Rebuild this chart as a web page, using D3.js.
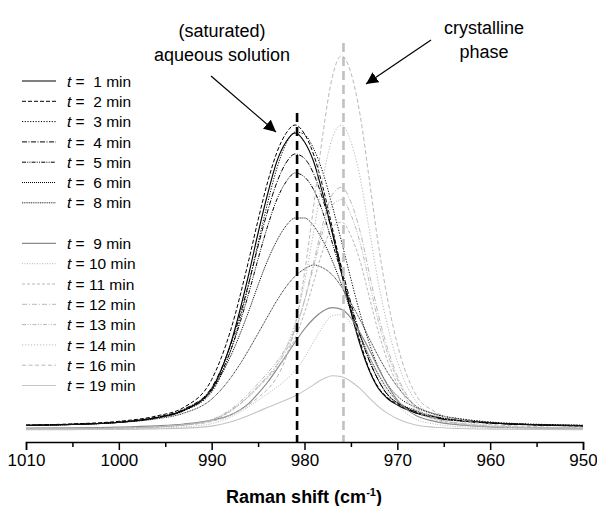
<!DOCTYPE html>
<html><head><meta charset="utf-8">
<script src="https://cdn.jsdelivr.net/npm/d3@7"></script>
<style>
html,body{margin:0;padding:0;background:#fff;}
svg{display:block;font-family:Arial,"Liberation Sans",sans-serif;}
</style></head>
<body>
<svg id="chart" width="597" height="506"></svg>
<script>
// Raman shift sample positions (cm-1)
const ramanShift = [1010,1005,1000,996,993,990,988,986,985,984,983,982,981,980,979,978,977,976,975,974,973,972,971,970,968,966,963,960,955,950];
// Intensities (arbitrary units)
const t1  = [6.6,7.6,9.7,14.4,22,43,87,158,199,237,270,290,299,290,270,237,199,158,120,87,61,43,33,27,19,14,11,9,7,6];
const t2  = [6.9,8.1,10.7,15.9,24.6,52.4,100.4,172,212,249,279,298.5,307,298,277,244,204,162,123,90,62,44,34,28,19,15,11,9,7,6];
const t3  = [6.6,7.6,9.6,14.1,21.2,40,80,148,189,228,263,288,300,297.5,283,259,226,190,153,118,88,64,47,36,24.6,17.8,13,10,7.8,6.8];
const t4  = [6.6,7.7,9.9,14.6,22.8,44.5,86,149,186,220,249,269,278,273.5,258,232,199.5,164,129,97,71,51,36.5,29.4,20.3,15.1,11,9,7.3,6.5];
const t5  = [6.5,7.5,9.6,13.9,21.6,41.7,80.5,139,173,205,232,250,259,255,242,219,189,158,125,96,71,51,37,29,20,15,11,9,7.3,6.5];
const t6  = [6.6,7.5,9.6,14.1,21.2,41.7,75,121,147,171,191,206,214,214,206,191,171,147,121,97,75,57,42,31,21.5,15.8,11.5,9.1,7.3,6.5];
const t8  = [6.6,7.5,9.5,13.1,18.8,32.9,53.6,82.3,98.6,115,131,145,156,163,167,164,157,145,129,112,93,75,59,45.5,26,18.3,12.5,9.7,7.3,6.5];
const t9  = [3.8,4.1,4.9,6.2,8,11.9,16.9,28.6,38.4,49.5,62.5,76,90,103,113.5,121,124.4,122.6,114,99,82,63,46,32,16.4,10.7,6.8,5.2,4.1,3.6];
const t10 = [2.4,2.7,3.0,3.9,5.1,8.4,14.9,25.4,31.7,38.1,44.7,52.2,61.6,74.5,90.3,105.8,116.4,117.4,108.8,94,73.8,54.3,38.9,27,12.8,8,5.2,3.9,3.1,2.75];
const t11 = [2.7,3.1,3.6,4.8,6.8,11.5,20.6,35.5,44.6,54,64.1,77,94.1,119.3,150.5,182.3,205,209.9,196.3,170.4,134.2,98.5,69.8,47.9,21.5,12.6,7.6,5.4,3.9,3.3];
const t12 = [2.8,3.2,3.8,5.1,7.1,12,21.2,36.4,45.8,55.6,66.6,81.2,101.3,131.7,169.8,208.9,237.4,244.7,229.9,200.2,157.8,115.8,82,56,24.8,14.3,8.5,5.9,4.2,3.5];
const t13 = [2.8,3.2,3.8,5.1,7.2,12.4,22.3,38.6,48.6,58.8,70,84.2,103.2,131.2,166,201.4,226.8,232.4,217.4,188.8,148.6,109,77.3,52.9,23.6,13.7,8.1,5.75,4.15,3.45];
const t14 = [2.9,3.4,4,5.3,7.4,12.1,20.9,35.6,44.8,54.7,66.6,84.1,109.7,149.9,201,254.3,294.3,306.9,290.3,254,200.8,147.4,104.2,70.7,30.7,17.3,10,6.8,4.8,3.9];
const t16 = [3,3.4,4,5.1,6.9,10.6,16.7,27.3,34.4,42.6,54.2,74.3,106.2,158.9,227,299.3,355.2,376.2,359.3,316.4,251.1,184.5,130.2,87.8,37.2,20.6,11.6,7.8,5.3,4.2];
const t19 = [2.2,2.4,2.6,3.1,3.9,5.9,10,16.6,20.6,24.4,28.2,32,36.2,41.4,47.4,52.9,56.2,55.3,50.5,43.3,33.9,25.2,18.4,13.3,7,4.8,3.5,2.9,2.5,2.35];

const legendLabels = ["1","2","3","4","5","6","8","9","10","11","12","13","14","16","19"];
const xTicks = [1010,1000,990,980,970,960,950];
const solutionPeak = 980.8;
const crystalPeak = 975.8;

const seriesData = [t1,t2,t3,t4,t5,t6,t8,t9,t10,t11,t12,t13,t14,t16,t19];
const styles = [
  {c:"#000", d:null, w:1.1},
  {c:"#000", d:"4,2", w:1},
  {c:"#000", d:"1.2,1.5", w:1},
  {c:"#000", d:"5,1.5,1,1.5", w:1},
  {c:"#000", d:"4,1.2,1,1.2,1,1.2", w:1},
  {c:"#000", d:"1,1", w:1},
  {c:"#222", d:"1,0.8", w:1},
  {c:"#8a8a8a", d:null, w:1.2},
  {c:"#b8b8b8", d:"1,1.5", w:1},
  {c:"#b8b8b8", d:"3,2", w:1},
  {c:"#b8b8b8", d:"5,2,1,2", w:1},
  {c:"#b8b8b8", d:"4,1.5,1,1.5,1,1.5", w:1},
  {c:"#b8b8b8", d:"1.2,1.8", w:1},
  {c:"#b8b8b8", d:"4,2.5", w:1},
  {c:"#c4c4c4", d:null, w:1.1}
];

const svg = d3.select("#chart");
const x = d3.scaleLinear().domain([1010,950]).range([26,583]);
const y = d3.scaleLinear().domain([0,400]).range([432,32]);
const axisY = 442;

const line = d3.line().x((d,i)=>x(ramanShift[i])).y(d=>y(d)).curve(d3.curveMonotoneX);

const g = svg.append("g");
seriesData.forEach((s,k)=>{
  g.append("path").attr("d", line(s)).attr("fill","none")
   .attr("stroke", styles[k].c).attr("stroke-width", styles[k].w)
   .attr("stroke-dasharray", styles[k].d);
});

// reference dashed lines
svg.append("line").attr("x1",x(crystalPeak)).attr("x2",x(crystalPeak)).attr("y1",43).attr("y2",axisY)
  .attr("stroke","#c0c0c0").attr("stroke-width",2.6).attr("stroke-dasharray","9,5");
svg.append("line").attr("x1",x(solutionPeak)).attr("x2",x(solutionPeak)).attr("y1",113).attr("y2",axisY)
  .attr("stroke","#000").attr("stroke-width",2.6).attr("stroke-dasharray","9,5");

// x axis
const xAxis = d3.axisBottom(x).tickValues(xTicks).tickSize(8).tickPadding(4).tickFormat(d3.format("d"));
const ax = svg.append("g").attr("transform",`translate(0,${axisY})`).call(xAxis);
ax.attr("font-family","Arial, 'Liberation Sans', sans-serif");
ax.select(".domain").attr("stroke","#000").attr("stroke-width",1.5);
ax.selectAll(".tick line").attr("stroke","#000").attr("stroke-width",1.5);
ax.selectAll(".tick text").attr("font-size","17px").attr("fill","#000");
const minor = d3.axisBottom(x).tickValues([1005,995,985,975,965,955]).tickSize(5).tickFormat("");
const axm = svg.append("g").attr("transform",`translate(0,${axisY})`).call(minor);
axm.select(".domain").remove();
axm.selectAll(".tick line").attr("stroke","#000").attr("stroke-width",1.5);

// axis title
const title = svg.append("text").attr("x",304).attr("y",503).attr("text-anchor","middle")
  .attr("font-size","18px").attr("font-weight","bold");
title.append("tspan").text("Raman shift (cm");
title.append("tspan").attr("dy",-7).attr("font-size","11px").text("-1");
title.append("tspan").attr("dy",7).text(")");

// legend
const legendRowY = (i)=> i<7 ? 81 + i*20.3 : 243.4 + (i-7)*20.3;
legendLabels.forEach((lab,i)=>{
  const yy = legendRowY(i);
  svg.append("line").attr("x1",22).attr("x2",56).attr("y1",yy).attr("y2",yy)
    .attr("stroke",styles[i].c).attr("stroke-width",styles[i].w).attr("stroke-dasharray",styles[i].d);
  const t = svg.append("text").attr("x",67).attr("y",yy+5.6).attr("font-size","15.5px").style("white-space","pre");
  t.append("tspan").attr("font-style","italic").text("t");
  t.append("tspan").text(lab.length===1 ? " =  "+lab+" min" : " = "+lab+" min");
});

// annotations
const ann = [
  {t:"(saturated)", x:222, y:37},
  {t:"aqueous solution", x:222, y:61},
  {t:"crystalline", x:484, y:34},
  {t:"phase", x:484, y:58}
];
ann.forEach(a=>svg.append("text").attr("x",a.x).attr("y",a.y).attr("text-anchor","middle").attr("font-size","18px").text(a.t));

svg.append("defs").append("marker").attr("id","ah").attr("viewBox","0 0 10 10").attr("refX",10).attr("refY",5)
  .attr("markerWidth",12).attr("markerHeight",12).attr("markerUnits","userSpaceOnUse").attr("orient","auto")
  .append("path").attr("d","M0,0 L10,5 L0,10 Z").attr("fill","#000");
svg.append("line").attr("x1",211).attr("y1",76).attr("x2",276).attr("y2",132).attr("stroke","#000").attr("stroke-width",1.2).attr("marker-end","url(#ah)");
svg.append("line").attr("x1",431).attr("y1",40).attr("x2",366).attr("y2",84).attr("stroke","#000").attr("stroke-width",1.2).attr("marker-end","url(#ah)");
</script>
</body></html>
